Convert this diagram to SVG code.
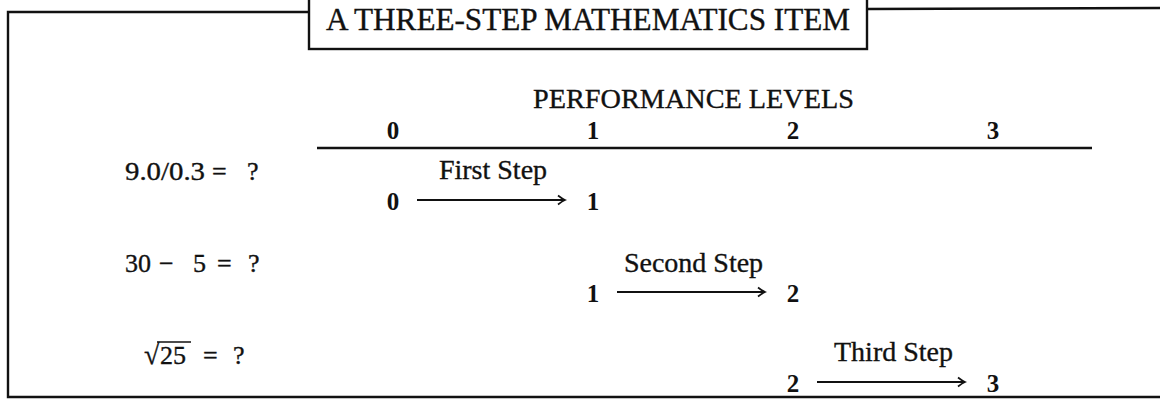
<svg xmlns="http://www.w3.org/2000/svg" width="1160" height="399" viewBox="0 0 1160 399">
<style>
text{font-family:"Liberation Serif","Times New Roman",serif;fill:#111;stroke:#111;stroke-width:0.35px}
.title{font-size:30.5px}
.lbl{font-size:28px}
.eq{font-size:26px}
.dig{font-size:25px;font-weight:bold;stroke-width:0}
.mid{text-anchor:middle}
.rule{stroke:#111;stroke-width:2.4;fill:none}
.arr{stroke:#111;stroke-width:2;fill:none}
</style>
<defs>
<marker id="ah" viewBox="-9 -6 11 12" refX="0" refY="0" markerWidth="11" markerHeight="12" orient="auto" markerUnits="userSpaceOnUse">
<path d="M-7,-4.5 Q-2.5,-1 0,0 Q-2.5,1 -7,4.5" fill="none" stroke="#111" stroke-width="1.7"/>
</marker>
</defs>
<rect width="1160" height="399" fill="#fff"/>
<g id="frame">
<path class="rule" d="M309,12 L8,12 L8,397 L1162,397"/>
<path class="rule" d="M867,9 L1162,8"/>
</g>
<g id="title">
<rect x="309" y="-4" width="558" height="53" fill="#fff" stroke="#111" stroke-width="2.4"/>
<text class="title mid" x="588" y="30" textLength="524" lengthAdjust="spacingAndGlyphs">A THREE-STEP MATHEMATICS ITEM</text>
</g>
<g id="performance-levels">
<text class="lbl mid" x="693.5" y="108" textLength="321" lengthAdjust="spacingAndGlyphs">PERFORMANCE LEVELS</text>
<text class="dig mid" x="393" y="139">0</text>
<text class="dig mid" x="593" y="139">1</text>
<text class="dig mid" x="793" y="139">2</text>
<text class="dig mid" x="993" y="139">3</text>
<line class="rule" x1="317" y1="148" x2="1092" y2="148"/>
</g>
<g id="item1">
<text class="eq" x="125" y="180" textLength="80" lengthAdjust="spacingAndGlyphs">9.0/0.3</text>
<text class="eq" x="212" y="180">=</text>
<text class="eq" x="247" y="180">?</text>
</g>
<g id="step1">
<text class="lbl mid" x="493" y="179">First Step</text>
<text class="dig mid" x="393" y="210">0</text>
<text class="dig mid" x="593" y="210">1</text>
</g>
<g id="item2">
<text class="eq" x="125" y="272">30</text>
<text class="eq" x="159" y="272">−</text>
<text class="eq" x="193" y="272">5</text>
<text class="eq" x="217" y="272">=</text>
<text class="eq" x="248" y="272">?</text>
</g>
<g id="step2">
<text class="lbl mid" x="693.5" y="272">Second Step</text>
<text class="dig mid" x="593" y="302">1</text>
<text class="dig mid" x="793" y="302">2</text>
</g>
<g id="item3">
<text class="eq" x="144" y="364" style="font-size:28px">√</text>
<line x1="157" y1="342" x2="191" y2="342" stroke="#111" stroke-width="1.6"/>
<text class="eq" x="160" y="364">25</text>
<text class="eq" x="203" y="364">=</text>
<text class="eq" x="233" y="364">?</text>
</g>
<g id="step3">
<text class="lbl mid" x="893.5" y="361">Third Step</text>
<text class="dig mid" x="793" y="392">2</text>
<text class="dig mid" x="993" y="392">3</text>
</g>
<g id="connectors">
<line class="arr" x1="417" y1="200" x2="565" y2="200" marker-end="url(#ah)"/>
<line class="arr" x1="617" y1="292" x2="765" y2="292" marker-end="url(#ah)"/>
<line class="arr" x1="817" y1="382" x2="965" y2="382" marker-end="url(#ah)"/>
</g>
</svg>
